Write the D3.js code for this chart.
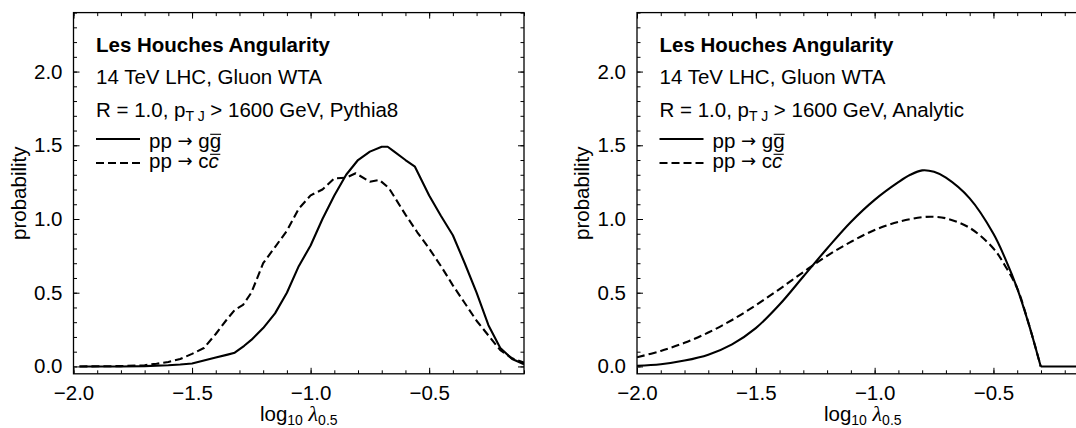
<!DOCTYPE html>
<html><head><meta charset="utf-8">
<script src="https://cdn.jsdelivr.net/npm/d3@7"></script>
<style>
html,body{margin:0;padding:0;background:#fff;}
svg{display:block;font-family:"Liberation Sans",Arial,Helvetica,sans-serif;}
</style></head><body>
<svg id="chart" width="1076" height="428"></svg>
<script>
// ---------- data ----------
const xMajorTicks = [-2.0, -1.5, -1.0, -0.5];
const yMajorTicks = [0.0, 0.5, 1.0, 1.5, 2.0];
const seriesHeads = ["pp", "pp"];
const seriesTails = [["g", "g"], ["c", "c"]];
const panelSources = ["Pythia8", "Analytic"];

// Left panel: Pythia8
const pythiaGGx = [-1.975,-1.9,-1.8,-1.7,-1.6,-1.55,-1.5,-1.45,-1.4,-1.35,-1.32,-1.28,-1.25,-1.2,-1.15,-1.1,-1.05,-1.0,-0.95,-0.9,-0.85,-0.8,-0.75,-0.7,-0.675,-0.65,-0.6,-0.56,-0.5,-0.45,-0.4,-0.35,-0.3,-0.25,-0.2,-0.15,-0.1];
const pythiaGGy = [0,0,0,0.002,0.008,0.013,0.02,0.04,0.06,0.08,0.093,0.14,0.18,0.26,0.36,0.50,0.68,0.82,1.0,1.16,1.30,1.40,1.457,1.49,1.49,1.46,1.40,1.355,1.16,1.02,0.89,0.70,0.50,0.28,0.125,0.05,0.015];
const pythiaCCx = [-1.975,-1.8,-1.7,-1.65,-1.6,-1.55,-1.5,-1.45,-1.4,-1.355,-1.32,-1.285,-1.25,-1.2,-1.15,-1.1,-1.05,-1.0,-0.95,-0.9,-0.85,-0.81,-0.75,-0.71,-0.67,-0.6,-0.55,-0.5,-0.45,-0.4,-0.35,-0.3,-0.25,-0.2,-0.15,-0.1];
const pythiaCCy = [0,0.002,0.008,0.018,0.03,0.05,0.085,0.125,0.22,0.315,0.383,0.417,0.50,0.70,0.81,0.92,1.07,1.16,1.20,1.275,1.28,1.31,1.253,1.265,1.21,1.03,0.91,0.80,0.68,0.55,0.43,0.31,0.21,0.11,0.055,0.025];

// Right panel: Analytic (smooth part, then zero tail)
const analyticGGx = [-2.0,-1.9,-1.8,-1.7,-1.6,-1.5,-1.4,-1.3,-1.2,-1.1,-1.0,-0.9,-0.85,-0.8,-0.75,-0.7,-0.6,-0.5,-0.45,-0.4,-0.35,-0.325,-0.301];
const analyticGGy = [0.005,0.015,0.04,0.08,0.15,0.26,0.42,0.61,0.80,0.98,1.13,1.25,1.30,1.33,1.32,1.28,1.14,0.90,0.73,0.53,0.28,0.14,0];
const analyticCCx = [-2.0,-1.9,-1.8,-1.7,-1.6,-1.5,-1.4,-1.3,-1.2,-1.1,-1.0,-0.9,-0.8,-0.75,-0.7,-0.6,-0.5,-0.45,-0.4,-0.35,-0.325,-0.301];
const analyticCCy = [0.062,0.105,0.16,0.23,0.315,0.415,0.525,0.64,0.75,0.845,0.925,0.98,1.012,1.015,1.005,0.94,0.80,0.68,0.53,0.28,0.14,0];
const analyticTailX = [-0.301, -0.1];
const analyticTailY = [0, 0];

// ---------- drawing ----------
const svg = d3.select("#chart");
const FS = 20.5;
const xDomain = [-2.0, -0.1];
const yDomain = [-0.05, 2.4];
const yRange = [373.8, 12.6];

const xMinor = d3.range(-20, 0).map(d => d / 10);
const yMinor = d3.range(0, 25).map(d => d / 10);

const zip = (xs, ys) => xs.map((x, i) => [x, ys[i]]);

const panels = [
  { left: 73.5, right: 524, source: panelSources[0],
    lines: [
      { pts: zip(pythiaGGx, pythiaGGy), dash: null, curve: d3.curveLinear },
      { pts: zip(pythiaCCx, pythiaCCy), dash: "8,4", curve: d3.curveLinear }
    ] },
  { left: 637, right: 1088.5, source: panelSources[1],
    lines: [
      { pts: zip(analyticCCx, analyticCCy), dash: "8,4", curve: d3.curveCatmullRom.alpha(0.5) },
      { pts: zip(analyticGGx, analyticGGy), dash: null, curve: d3.curveCatmullRom.alpha(0.5) },
      { pts: zip(analyticTailX, analyticTailY), dash: null, curve: d3.curveLinear }
    ] }
];

const measure = (txt, attrs) => {
  const t = svg.append("text").text(txt);
  Object.entries(attrs).forEach(([k, v]) => t.attr(k, v));
  const w = t.node().getComputedTextLength();
  t.remove();
  return w;
};

panels.forEach((p, pi) => {
  const x = d3.scaleLinear().domain(xDomain).range([p.left, p.right]);
  const y = d3.scaleLinear().domain(yDomain).range(yRange);
  const g = svg.append("g");
  const clipId = "clip" + pi;
  g.append("clipPath").attr("id", clipId).append("rect")
    .attr("x", p.left).attr("y", yRange[1]).attr("width", p.right - p.left).attr("height", yRange[0] - yRange[1]);

  // curves
  const line = d3.line().x(d => x(d[0])).y(d => y(d[1]));
  const cg = g.append("g").attr("clip-path", `url(#${clipId})`);
  p.lines.forEach(l => {
    cg.append("path").attr("d", line.curve(l.curve)(l.pts))
      .attr("fill", "none").attr("stroke", "#000").attr("stroke-width", 2.1)
      .attr("stroke-linejoin", "round")
      .attr("stroke-dasharray", l.dash);
  });

  // axes (ticks inward on all four sides)
  const fmt = d3.format(".1f");
  const addAxis = (axis, tr, labels) => {
    const a = g.append("g").attr("transform", tr).call(axis);
    a.select(".domain").remove();
    a.selectAll(".tick line").attr("stroke", "#000").attr("stroke-width", 1);
    if (!labels) a.selectAll(".tick text").remove();
    else a.selectAll(".tick text").attr("fill", "#000").attr("font-size", FS)
      .attr("font-family", "Liberation Sans, Arial, sans-serif");
    return a;
  };
  const yb = yRange[0], yt = yRange[1];
  addAxis(d3.axisBottom(x).tickValues(xMinor).tickSize(-3.5).tickFormat(""), `translate(0,${yb})`, false);
  addAxis(d3.axisTop(x).tickValues(xMinor).tickSize(-3.5).tickFormat(""), `translate(0,${yt})`, false);
  addAxis(d3.axisLeft(y).tickValues(yMinor).tickSize(-3.5).tickFormat(""), `translate(${p.left},0)`, false);
  addAxis(d3.axisRight(y).tickValues(yMinor).tickSize(-3.5).tickFormat(""), `translate(${p.right},0)`, false);
  const xb = addAxis(d3.axisBottom(x).tickValues(xMajorTicks).tickSize(-6).tickPadding(12).tickFormat(fmt), `translate(0,${yb})`, true);
  xb.selectAll(".tick text").attr("dy", "0.71em");
  addAxis(d3.axisTop(x).tickValues(xMajorTicks).tickSize(-6).tickFormat(""), `translate(0,${yt})`, false);
  addAxis(d3.axisLeft(y).tickValues(yMajorTicks).tickSize(-6).tickPadding(11).tickFormat(fmt), `translate(${p.left},0)`, true);
  addAxis(d3.axisRight(y).tickValues(yMajorTicks).tickSize(-6).tickFormat(""), `translate(${p.right},0)`, false);

  // frame
  g.append("rect").attr("x", p.left).attr("y", yt).attr("width", p.right - p.left).attr("height", yb - yt)
    .attr("fill", "none").attr("stroke", "#000").attr("stroke-width", 1.3);

  // axis titles
  const cx = (p.left + p.right) / 2;
  const xt = g.append("text").attr("x", cx).attr("y", 421).attr("text-anchor", "middle").attr("font-size", FS);
  xt.append("tspan").text("log");
  xt.append("tspan").attr("font-size", 14).attr("dy", 4).text("10");
  xt.append("tspan").attr("dy", -4).text(" ");
  xt.append("tspan").attr("font-family", "Liberation Serif, serif").attr("font-style", "italic").attr("font-size", 22).text("\u03BB");
  xt.append("tspan").attr("font-size", 14).attr("dy", 4).text("0.5");

  g.append("text").attr("transform", `translate(${p.left - 48},${(yb + yt) / 2}) rotate(-90)`)
    .attr("text-anchor", "middle").attr("font-size", FS).text("probability");

  // annotation block
  const x0 = p.left + 22.5;
  g.append("text").attr("x", x0).attr("y", 51.7).attr("font-size", FS).attr("font-weight", "bold").text("Les Houches Angularity");
  g.append("text").attr("x", x0).attr("y", 84).attr("font-size", FS).text("14 TeV LHC, Gluon WTA");
  const t3 = g.append("text").attr("x", x0).attr("y", 116.7).attr("font-size", FS);
  t3.append("tspan").text("R = 1.0, p");
  t3.append("tspan").attr("font-size", 14).attr("dy", 4).text("T J");
  t3.append("tspan").attr("dy", -4).text(" > 1600 GeV, " + p.source);

  // legend
  const legY = [139, 163];
  const legBase = [148.3, 168.3];
  const dashes = [null, "8,4"];
  seriesHeads.forEach((head, i) => {
    g.append("line").attr("x1", x0).attr("x2", x0 + 44).attr("y1", legY[i]).attr("y2", legY[i])
      .attr("stroke", "#000").attr("stroke-width", 2.1).attr("stroke-dasharray", dashes[i]);
    const tx = x0 + 53;
    const t = g.append("text").attr("x", tx).attr("y", legBase[i]).attr("font-size", FS);
    t.append("tspan").text(head + " ");
    t.append("tspan").attr("font-family", "DejaVu Sans, sans-serif").attr("font-size", 18).attr("dy", -1).text("\u2192");
    t.append("tspan").attr("dy", 1).text(" " + seriesTails[i][0]);
    const lt = t.append("tspan").text(seriesTails[i][1]);
    if (i === 1) lt.attr("font-style", "italic");
    const wAll = t.node().getComputedTextLength();
    const wLast = measure(seriesTails[i][1], { "font-size": FS, "font-style": i === 1 ? "italic" : "normal" });
    const ob = legBase[i] - 14;
    g.append("line").attr("x1", tx + wAll - wLast + (i === 1 ? 1.5 : 0.5)).attr("x2", tx + wAll + (i === 1 ? 1.5 : 0))
      .attr("y1", ob).attr("y2", ob).attr("stroke", "#000").attr("stroke-width", 1.1);
  });
});
</script>
</body></html>
